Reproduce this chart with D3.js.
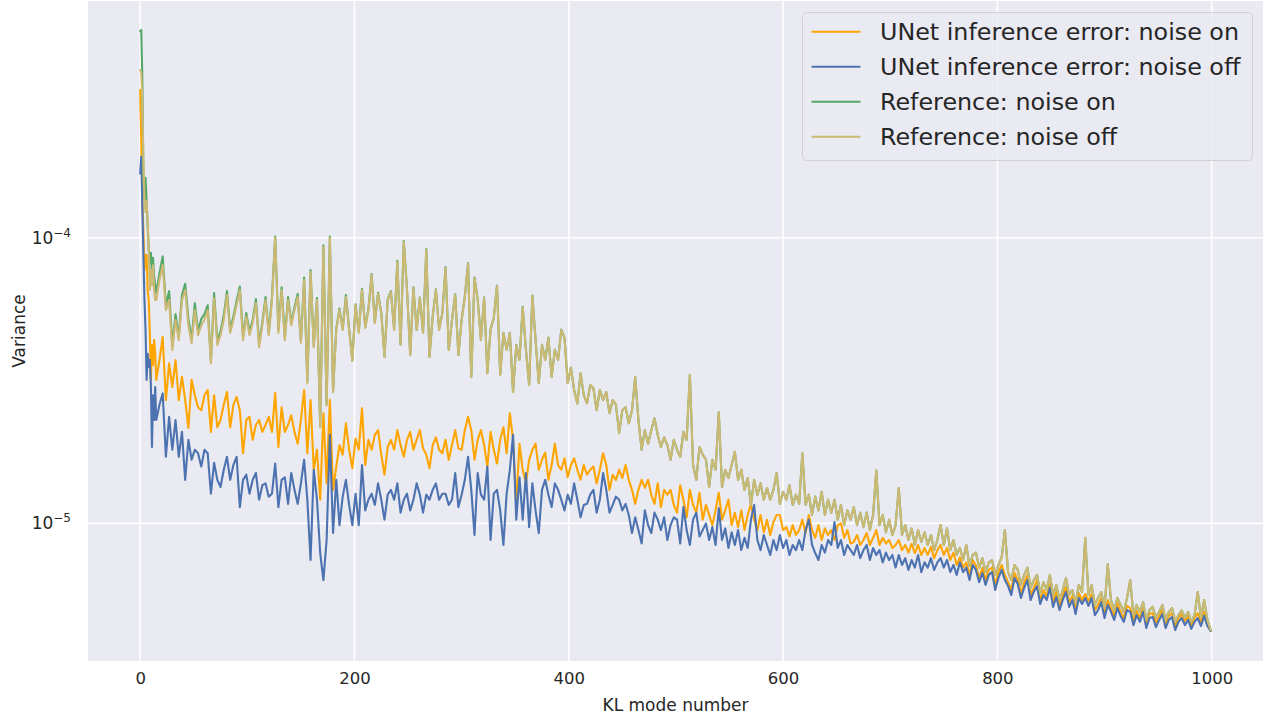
<!DOCTYPE html>
<html>
<head>
<meta charset="utf-8">
<script src="https://cdn.jsdelivr.net/npm/d3@7/dist/d3.min.js"></script>
<style>
  html, body { margin: 0; padding: 0; background: #fff; }
  svg { display: block; font-family: "DejaVu Sans", sans-serif; }
</style>
</head>
<body>
<svg id="chart" width="1263" height="719"></svg>
<script>
// KL mode numbers: every mode up to 14, then every 3rd one up to 999
const modes = d3.range(0, 15).concat(d3.range(15, 1000, 3));

// variances, in units of 1e-5 (one row = 10 modes)
const unetNoiseOn = [
  32.9, 22.0, 13.5, 10.6, 7.7, 8.7, 8.7, 6.56, 6.05, 4.62, 3.18, 4.22, 3.58, 4.38, 3.92,
  3.18, 3.73, 4.49, 2.70, 3.63, 3.00, 3.73, 2.70, 3.26, 2.70,
  2.16, 3.18, 2.81, 2.55, 2.49, 2.81, 2.93, 2.09, 2.81, 2.17,
  2.30, 2.60, 2.88, 2.17, 2.60, 2.77, 2.49, 1.76, 2.30, 2.36,
  1.96, 2.21, 2.30, 2.09, 2.21, 2.36, 2.09, 2.86, 1.85, 2.55,
  2.09, 2.21, 2.39, 2.09, 1.90, 2.30, 2.93, 1.76, 2.70, 1.54,
  1.81, 1.21, 2.43, 1.38, 2.70, 1.31, 1.58, 1.88, 1.74, 2.24,
  1.81, 1.56, 1.98, 1.81, 2.53, 1.60, 1.96, 1.81, 2.04, 2.12,
  1.74, 1.48, 1.85, 1.96, 1.81, 2.12, 1.88, 1.71, 1.96, 2.09,
  1.81, 1.96, 2.12, 1.83, 1.74, 1.56, 1.88, 2.00, 1.81, 1.76,
  1.96, 1.67, 1.88, 2.12, 1.83, 1.81, 2.12, 2.36, 2.12, 1.67,
  1.96, 2.12, 1.88, 1.58, 2.09, 1.81, 1.62, 1.96, 2.17, 1.76,
  2.43, 1.96, 1.17, 1.90, 1.54, 1.38, 1.67, 1.81, 1.90, 1.54,
  1.67, 1.77, 1.42, 1.60, 1.90, 1.60, 1.54, 1.69, 1.45, 1.60,
  1.69, 1.54, 1.42, 1.60, 1.48, 1.54, 1.58, 1.38, 1.54, 1.76,
  1.60, 1.31, 1.48, 1.42, 1.54, 1.44, 1.60, 1.42, 1.31, 1.17,
  1.31, 1.42, 1.33, 1.42, 1.26, 1.17, 1.38, 1.14, 1.31, 1.26,
  1.31, 1.16, 1.09, 1.36, 1.21, 1.05, 1.31, 1.16, 1.09, 1.28,
  1.03, 1.16, 1.07, 0.986, 1.11, 1.28, 1.03, 1.11, 1.21, 0.986,
  1.09, 0.97, 1.11, 0.947, 1.07, 1.17, 1.03, 0.947, 1.07, 0.93,
  1.03, 0.91, 1.01, 1.07, 1.07, 0.947, 0.97, 0.90, 0.986, 0.91,
  0.947, 1.03, 0.925, 1.07, 0.947, 0.89, 0.986, 0.874, 0.96, 0.91,
  0.947, 0.874, 0.986, 1.00, 0.89, 0.947, 0.85, 0.86, 0.91, 0.84,
  0.874, 0.925, 0.84, 0.89, 0.947, 0.84, 0.89, 0.85, 0.874, 0.82,
  0.84, 0.874, 0.806, 0.84, 0.79, 0.847, 0.787, 0.84, 0.775, 0.82,
  0.775, 0.827, 0.755, 0.806, 0.84, 0.775, 0.82, 0.744, 0.79, 0.715,
  0.76, 0.70, 0.73, 0.66, 0.744, 0.71, 0.644, 0.70, 0.633, 0.687,
  0.70, 0.608, 0.675, 0.715, 0.66, 0.622, 0.584, 0.67, 0.633, 0.57,
  0.618, 0.66, 0.561, 0.594, 0.633, 0.539, 0.584, 0.557, 0.613, 0.53,
  0.575, 0.518, 0.557, 0.599, 0.53, 0.557, 0.497, 0.57, 0.539, 0.566,
  0.535, 0.566, 0.497, 0.518, 0.548, 0.481, 0.539, 0.505, 0.474, 0.526,
  0.49, 0.466, 0.514, 0.505, 0.455, 0.493, 0.466, 0.505, 0.444, 0.481,
  0.485, 0.448, 0.474, 0.497, 0.444, 0.474, 0.485, 0.437, 0.466, 0.481,
  0.455, 0.474, 0.44, 0.466, 0.485, 0.452, 0.49, 0.452, 0.42
];

const unetNoiseOff = [
  16.8, 19.2, 13.0, 8.7, 6.05, 4.75, 3.18, 3.92, 3.53, 3.73, 3.05, 1.85, 2.81, 2.30, 3.00,
  2.30, 2.60, 2.85, 1.71, 2.36, 1.81, 2.30, 1.71, 2.09, 1.42,
  1.96, 1.67, 1.81, 1.76, 1.58, 1.81, 1.76, 1.27, 1.63, 1.42,
  1.34, 1.54, 1.71, 1.42, 1.60, 1.71, 1.14, 1.42, 1.48, 1.27,
  1.42, 1.50, 1.21, 1.36, 1.38, 1.24, 1.27, 1.62, 1.14, 1.42,
  1.45, 1.17, 1.50, 1.31, 1.17, 1.38, 1.67, 1.21, 0.744, 1.54,
  1.21, 0.787, 0.633, 0.874, 2.04, 0.925, 1.42, 0.986, 1.24, 1.42,
  1.16, 0.986, 1.27, 0.986, 1.60, 1.11, 1.21, 1.27, 1.16, 1.38,
  1.21, 1.03, 1.26, 1.31, 1.21, 1.38, 1.09, 1.21, 1.27, 1.11,
  1.21, 1.38, 1.26, 1.09, 1.26, 1.21, 1.31, 1.38, 1.21, 1.27,
  1.27, 1.16, 1.21, 1.50, 1.14, 1.26, 1.42, 1.71, 1.31, 0.91,
  1.50, 1.26, 1.21, 1.58, 0.874, 1.27, 1.31, 1.11, 0.84, 1.27,
  1.54, 2.04, 1.03, 1.45, 1.03, 1.50, 0.97, 1.38, 1.11, 0.925,
  1.31, 1.42, 1.26, 1.14, 1.38, 1.31, 1.21, 1.11, 1.26, 1.17,
  1.38, 1.21, 1.05, 1.16, 1.17, 1.26, 1.31, 1.09, 1.21, 1.50,
  1.31, 1.09, 1.16, 1.24, 1.21, 1.11, 1.17, 1.07, 0.925, 1.05,
  0.947, 0.85, 1.11, 0.986, 0.925, 1.09, 1.03, 0.947, 1.05, 0.874,
  0.986, 1.05, 1.03, 0.85, 1.14, 0.947, 0.84, 1.03, 1.09, 0.90,
  0.947, 1.00, 0.874, 0.97, 0.84, 1.13, 0.874, 0.96, 0.82, 0.93,
  0.84, 0.947, 0.806, 0.89, 0.82, 1.03, 1.16, 0.874, 0.806, 0.91,
  0.84, 0.775, 0.874, 0.806, 0.91, 0.82, 0.874, 0.775, 0.84, 0.806,
  0.874, 0.806, 0.947, 1.03, 0.84, 0.787, 0.744, 0.84, 0.79, 0.874,
  0.84, 1.01, 0.82, 0.874, 0.775, 0.84, 0.806, 0.775, 0.84, 0.755,
  0.806, 0.84, 0.744, 0.82, 0.775, 0.806, 0.73, 0.79, 0.744, 0.775,
  0.70, 0.775, 0.715, 0.755, 0.687, 0.744, 0.70, 0.775, 0.675, 0.73,
  0.70, 0.755, 0.687, 0.73, 0.755, 0.70, 0.744, 0.675, 0.715, 0.66,
  0.73, 0.675, 0.70, 0.633, 0.715, 0.687, 0.622, 0.67, 0.608, 0.66,
  0.675, 0.584, 0.644, 0.687, 0.633, 0.603, 0.561, 0.644, 0.613, 0.548,
  0.594, 0.633, 0.539, 0.575, 0.603, 0.522, 0.561, 0.539, 0.594, 0.51,
  0.552, 0.497, 0.539, 0.575, 0.51, 0.539, 0.481, 0.548, 0.522, 0.548,
  0.514, 0.548, 0.477, 0.497, 0.53, 0.466, 0.518, 0.49, 0.459, 0.505,
  0.474, 0.452, 0.497, 0.49, 0.44, 0.477, 0.452, 0.49, 0.43, 0.466,
  0.47, 0.433, 0.459, 0.481, 0.43, 0.459, 0.47, 0.423, 0.452, 0.466,
  0.44, 0.459, 0.427, 0.452, 0.466, 0.437, 0.474, 0.437, 0.42
];

const refNoiseOn = [
  52.9, 53.4, 36.3, 16.3, 13.5, 16.2, 13.5, 11.0, 9.06, 8.15, 8.86, 7.5, 8.5, 7.3, 6.85,
  6.4, 7.5, 8.6, 5.8, 6.5, 4.2, 5.4, 4.5, 6.3, 6.9,
  5.2, 4.4, 5.9, 4.7, 5.2, 5.4, 5.8, 3.7, 6.4, 4.35,
  4.7, 5.35, 6.5, 4.75, 5.3, 6.0, 6.75, 4.5, 5.45, 4.7,
  5.15, 6.1, 4.25, 5.05, 6.2, 4.65, 6.2, 10.1, 4.75, 6.7,
  4.45, 6.2, 5.05, 5.7, 6.35, 4.35, 7.25, 3.15, 7.7, 4.2,
  6.15, 2.2, 9.4, 2.62, 10.1, 2.92, 4.8, 5.65, 4.8, 6.3,
  4.8, 3.72, 5.85, 4.68, 6.62, 4.86, 5.62, 7.46, 5.06, 6.42,
  5.46, 3.84, 6.08, 6.5, 4.78, 8.3, 4.23, 9.74, 6.6, 3.9,
  6.7, 4.77, 6.18, 4.66, 9.12, 3.83, 5.32, 6.6, 4.77, 5.45,
  7.9, 4.06, 5.17, 6.34, 3.89, 5.17, 6.24, 8.16, 3.26, 7.26,
  6.08, 4.39, 6.18, 3.36, 4.77, 5.25, 6.8, 3.32, 4.65, 4.06,
  4.65, 2.89, 4.22, 3.74, 5.73, 4.06, 3.06, 6.28, 4.39, 3.10,
  4.22, 3.74, 4.47, 3.26, 4.06, 3.74, 4.77, 4.47, 3.10, 3.51,
  2.93, 2.63, 3.35, 2.81, 2.63, 3.05, 2.97, 2.49, 2.93, 2.70,
  2.88, 2.43, 2.70, 2.60, 2.07, 2.49, 2.55, 2.24, 2.49, 3.25,
  2.30, 1.81, 2.12, 1.90, 2.12, 2.33, 2.04, 1.85, 2.00, 1.88,
  1.67, 1.96, 1.81, 1.71, 2.09, 1.96, 3.31, 1.60, 1.42, 1.85,
  1.74, 1.67, 1.34, 1.67, 1.54, 2.45, 1.34, 1.54, 1.44, 1.60,
  1.78, 1.42, 1.54, 1.31, 1.44, 1.16, 1.42, 1.26, 1.38, 1.21,
  1.33, 1.21, 1.31, 1.50, 1.17, 1.29, 1.21, 1.36, 1.16, 1.26,
  1.17, 1.76, 1.16, 1.26, 1.07, 1.24, 1.11, 1.29, 1.07, 1.21,
  1.09, 1.21, 1.03, 1.16, 0.986, 1.11, 1.03, 1.14, 0.986, 1.09,
  0.97, 1.09, 0.947, 1.07, 1.53, 0.986, 1.07, 0.93, 1.03, 0.91,
  0.986, 1.33, 0.91, 0.986, 0.874, 0.96, 0.84, 0.947, 0.86, 0.93,
  0.84, 0.91, 0.806, 0.874, 0.986, 0.84, 0.96, 0.806, 0.874, 0.775,
  0.82, 0.744, 0.84, 0.71, 0.775, 0.79, 0.70, 0.755, 0.675, 0.73,
  0.744, 0.66, 0.715, 0.76, 0.947, 0.675, 0.633, 0.715, 0.687, 0.608,
  0.66, 0.70, 0.594, 0.633, 0.66, 0.57, 0.622, 0.584, 0.66, 0.561,
  0.608, 0.539, 0.584, 0.644, 0.561, 0.584, 0.526, 0.608, 0.575, 0.89,
  0.561, 0.608, 0.518, 0.548, 0.575, 0.505, 0.72, 0.539, 0.497, 0.548,
  0.518, 0.49, 0.548, 0.633, 0.477, 0.518, 0.49, 0.53, 0.459, 0.497,
  0.51, 0.466, 0.49, 0.518, 0.459, 0.49, 0.505, 0.452, 0.477, 0.497,
  0.466, 0.49, 0.452, 0.477, 0.575, 0.466, 0.539, 0.459, 0.423
];

const refNoiseOff = [
  38.6, 38.0, 30.3, 18.7, 13.5, 12.3, 13.5, 11.3, 9.06, 6.56, 7.70, 6.8, 8.0, 6.56, 6.05,
  6.05, 7.11, 8.02, 5.58, 6.05, 4.05, 5.15, 4.38, 6.05, 6.56,
  4.94, 4.28, 5.58, 4.56, 4.94, 5.15, 5.58, 3.63, 6.15, 4.21,
  4.56, 5.15, 6.30, 4.64, 5.15, 5.81, 6.56, 4.38, 5.30, 4.56,
  5.02, 5.91, 4.14, 4.94, 6.05, 4.56, 6.05, 10.0, 4.64, 6.56,
  4.38, 6.05, 4.94, 5.58, 6.20, 4.28, 7.11, 3.09, 7.58, 4.14,
  6.05, 2.17, 9.28, 2.58, 10.0, 2.88, 4.75, 5.58, 4.75, 6.20,
  4.75, 3.70, 5.81, 4.64, 6.56, 4.83, 5.58, 7.40, 5.02, 6.37,
  5.43, 3.82, 6.05, 6.45, 4.75, 8.22, 4.21, 9.66, 6.56, 3.88,
  6.66, 4.75, 6.15, 4.64, 9.06, 3.82, 5.30, 6.56, 4.75, 5.43,
  7.84, 4.05, 5.15, 6.30, 3.88, 5.15, 6.20, 8.10, 3.25, 7.22,
  6.05, 4.38, 6.15, 3.35, 4.75, 5.23, 6.77, 3.31, 4.64, 4.05,
  4.64, 2.88, 4.21, 3.73, 5.70, 4.05, 3.05, 6.25, 4.38, 3.09,
  4.21, 3.73, 4.46, 3.25, 4.05, 3.73, 4.75, 4.46, 3.09, 3.50,
  2.93, 2.63, 3.35, 2.81, 2.63, 3.05, 2.97, 2.49, 2.93, 2.70,
  2.88, 2.43, 2.70, 2.60, 2.07, 2.49, 2.55, 2.24, 2.49, 3.25,
  2.30, 1.81, 2.12, 1.90, 2.12, 2.33, 2.04, 1.85, 2.00, 1.88,
  1.67, 1.96, 1.81, 1.71, 2.09, 1.96, 3.31, 1.60, 1.42, 1.85,
  1.74, 1.67, 1.34, 1.67, 1.54, 2.45, 1.34, 1.54, 1.44, 1.60,
  1.78, 1.42, 1.54, 1.31, 1.44, 1.16, 1.42, 1.26, 1.38, 1.21,
  1.33, 1.21, 1.31, 1.50, 1.17, 1.29, 1.21, 1.36, 1.16, 1.26,
  1.17, 1.76, 1.16, 1.26, 1.07, 1.24, 1.11, 1.29, 1.07, 1.21,
  1.09, 1.21, 1.03, 1.16, 0.986, 1.11, 1.03, 1.14, 0.986, 1.09,
  0.97, 1.09, 0.947, 1.07, 1.53, 0.986, 1.07, 0.93, 1.03, 0.91,
  0.986, 1.33, 0.91, 0.986, 0.874, 0.96, 0.84, 0.947, 0.86, 0.93,
  0.84, 0.91, 0.806, 0.874, 0.986, 0.84, 0.96, 0.806, 0.874, 0.775,
  0.82, 0.744, 0.84, 0.71, 0.775, 0.79, 0.70, 0.755, 0.675, 0.73,
  0.744, 0.66, 0.715, 0.76, 0.947, 0.675, 0.633, 0.715, 0.687, 0.608,
  0.66, 0.70, 0.594, 0.633, 0.66, 0.57, 0.622, 0.584, 0.66, 0.561,
  0.608, 0.539, 0.584, 0.644, 0.561, 0.584, 0.526, 0.608, 0.575, 0.89,
  0.561, 0.608, 0.518, 0.548, 0.575, 0.505, 0.72, 0.539, 0.497, 0.548,
  0.518, 0.49, 0.548, 0.633, 0.477, 0.518, 0.49, 0.53, 0.459, 0.497,
  0.51, 0.466, 0.49, 0.518, 0.459, 0.49, 0.505, 0.452, 0.477, 0.497,
  0.466, 0.49, 0.452, 0.477, 0.575, 0.466, 0.539, 0.459, 0.423
];

const UNIT = 1e-5;

const series = [
  { name: 'UNet inference error: noise on',  color: '#FFA500', values: unetNoiseOn },
  { name: 'UNet inference error: noise off', color: '#4C72B0', values: unetNoiseOff },
  { name: 'Reference: noise on',             color: '#55A868', values: refNoiseOn },
  { name: 'Reference: noise off',            color: '#CCB974', values: refNoiseOff },
];

const xTicks = [0, 200, 400, 600, 800, 1000];
const yTicks = [1e-5, 1e-4];

// ---- layout ----
const plot = { left: 88, right: 1263, top: 1, bottom: 661 };
const svg = d3.select('#chart');

const x = d3.scaleLinear().domain([-48.7, 1047.9]).range([plot.left, plot.right]);
const y = d3.scaleLog().domain([3.296e-6, 6.743e-4]).range([plot.bottom, plot.top]);

// background
svg.append('rect')
  .attr('x', plot.left).attr('y', plot.top)
  .attr('width', plot.right - plot.left).attr('height', plot.bottom - plot.top)
  .attr('fill', '#EAEAF2');

// grid
const gGrid = svg.append('g');
xTicks.forEach(t => gGrid.append('line')
  .attr('x1', x(t)).attr('x2', x(t)).attr('y1', plot.top).attr('y2', plot.bottom)
  .attr('stroke', '#fff').attr('stroke-width', 1.6));
yTicks.forEach(t => gGrid.append('line')
  .attr('x1', plot.left).attr('x2', plot.right).attr('y1', y(t)).attr('y2', y(t))
  .attr('stroke', '#fff').attr('stroke-width', 1.6));

// lines
const line = d3.line()
  .defined((d, i) => modes[i] !== undefined)
  .x((d, i) => x(modes[i]))
  .y(d => y(d * UNIT));

const gLines = svg.append('g');
series.forEach(s => {
  gLines.append('path')
    .datum(s.values)
    .attr('d', line)
    .attr('fill', 'none')
    .attr('stroke', s.color)
    .attr('stroke-width', 2.1)
    .attr('stroke-linejoin', 'round')
    .attr('stroke-linecap', 'round');
});

// x axis
const xAxis = svg.append('g')
  .attr('transform', `translate(0,${plot.bottom})`)
  .call(d3.axisBottom(x).tickValues(xTicks).tickSize(0).tickPadding(11).tickFormat(d3.format('d')));
xAxis.select('.domain').remove();
xAxis.selectAll('text')
  .attr('font-family', '"DejaVu Sans", sans-serif')
  .attr('font-size', 16.5).attr('fill', '#262626');

// y axis with 10^n labels
const yAxis = svg.append('g')
  .attr('transform', `translate(${plot.left},0)`)
  .call(d3.axisLeft(y).tickValues(yTicks).tickSize(0).tickPadding(17).tickFormat(() => ''));
yAxis.select('.domain').remove();
yAxis.selectAll('.tick text').each(function (d) {
  const t = d3.select(this)
    .attr('font-family', '"DejaVu Sans", sans-serif')
    .attr('fill', '#262626')
    .attr('font-size', 17);
  t.append('tspan').text('10');
  t.append('tspan').attr('font-size', 12).attr('dy', -7)
    .text('\u2212' + Math.round(-Math.log10(d)));
});

// axis titles
svg.append('text')
  .attr('x', (plot.left + plot.right) / 2).attr('y', 711)
  .attr('text-anchor', 'middle')
  .attr('font-size', 17).attr('fill', '#262626')
  .text('KL mode number');

svg.append('text')
  .attr('transform', `translate(25,${(plot.top + plot.bottom) / 2}) rotate(-90)`)
  .attr('text-anchor', 'middle')
  .attr('font-size', 17).attr('fill', '#262626')
  .text('Variance');

// legend
const lg = svg.append('g').attr('transform', 'translate(802.5,12.5)');
lg.append('rect')
  .attr('width', 450).attr('height', 148).attr('rx', 4)
  .attr('fill', '#EAEAF2').attr('fill-opacity', 0.8)
  .attr('stroke', '#cccccc').attr('stroke-opacity', 0.8).attr('stroke-width', 1);
series.forEach((s, i) => {
  const cy = 19.2 + i * 35;
  lg.append('line')
    .attr('x1', 9).attr('x2', 58).attr('y1', cy).attr('y2', cy)
    .attr('stroke', s.color).attr('stroke-width', 2);
  lg.append('text')
    .attr('x', 77.5).attr('y', cy + 8.5)
    .attr('font-size', 23.8).attr('fill', '#262626')
    .text(s.name);
});
</script>
</body>
</html>
